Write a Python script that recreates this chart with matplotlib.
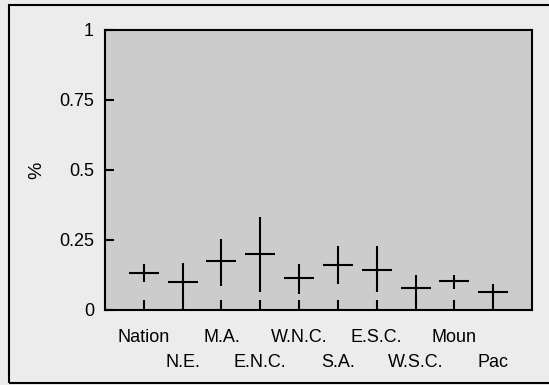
import matplotlib.pyplot as plt
from matplotlib.patches import Rectangle

# regions and estimated values (mean, low, high)
regions = ["Nation", "N.E.", "M.A.", "E.N.C.", "W.N.C.",
           "S.A.", "E.S.C.", "W.S.C.", "Moun", "Pac"]
means = [0.132, 0.101, 0.176, 0.201, 0.115, 0.161, 0.143, 0.077, 0.102, 0.063]
lows = [0.100, 0.030, 0.085, 0.063, 0.057, 0.093, 0.065, 0.030, 0.075, 0.030]
highs = [0.164, 0.168, 0.254, 0.333, 0.164, 0.230, 0.230, 0.125, 0.126, 0.093]

plt.rcParams['font.family'] = ['Liberation Sans', 'DejaVu Sans']

fig = plt.figure(figsize=(5.49, 3.85), dpi=100)
fig.patch.set_facecolor('#ececec')
ax = fig.add_axes([105 / 549, 75 / 385, 427 / 549, 280 / 385])
ax.set_facecolor('#cccccc')

# outer frame
fig.patches.append(Rectangle((9 / 549, 2 / 385), 1.2, 378 / 385, transform=fig.transFigure,
                             fill=False, edgecolor='black', linewidth=1.5))

x = list(range(1, len(regions) + 1))
yerr = [[m - l for m, l in zip(means, lows)], [h - m for m, h in zip(means, highs)]]
ax.errorbar(x, means, yerr=yerr, fmt='_', color='black', markersize=22,
            markeredgewidth=1.5, elinewidth=1.5, capsize=0)

ax.set_xlim(0, 11)
ax.set_ylim(0, 1)
ax.set_yticks([0, 0.25, 0.5, 0.75, 1])
ax.set_yticklabels(["0", "0.25", "0.5", "0.75", "1"])

# staggered labels: odd positions on major ticks, even ones on minor ticks
ax.set_xticks(x[0::2])
ax.set_xticklabels(regions[0::2])
ax.set_xticks(x[1::2], minor=True)
ax.set_xticklabels(regions[1::2], minor=True)

ax.tick_params(axis='x', which='both', direction='in', length=7.5, width=1.5, labelsize=13)
ax.tick_params(axis='x', which='major', pad=14)
ax.tick_params(axis='x', which='minor', pad=32)
ax.tick_params(axis='y', direction='in', length=6.5, width=1.5, pad=8, labelsize=13)
for s in ax.spines.values():
    s.set_linewidth(1.5)

ax.set_ylabel("%", fontsize=14, labelpad=10)

fig.savefig("out.png", dpi=100, facecolor=fig.get_facecolor())
